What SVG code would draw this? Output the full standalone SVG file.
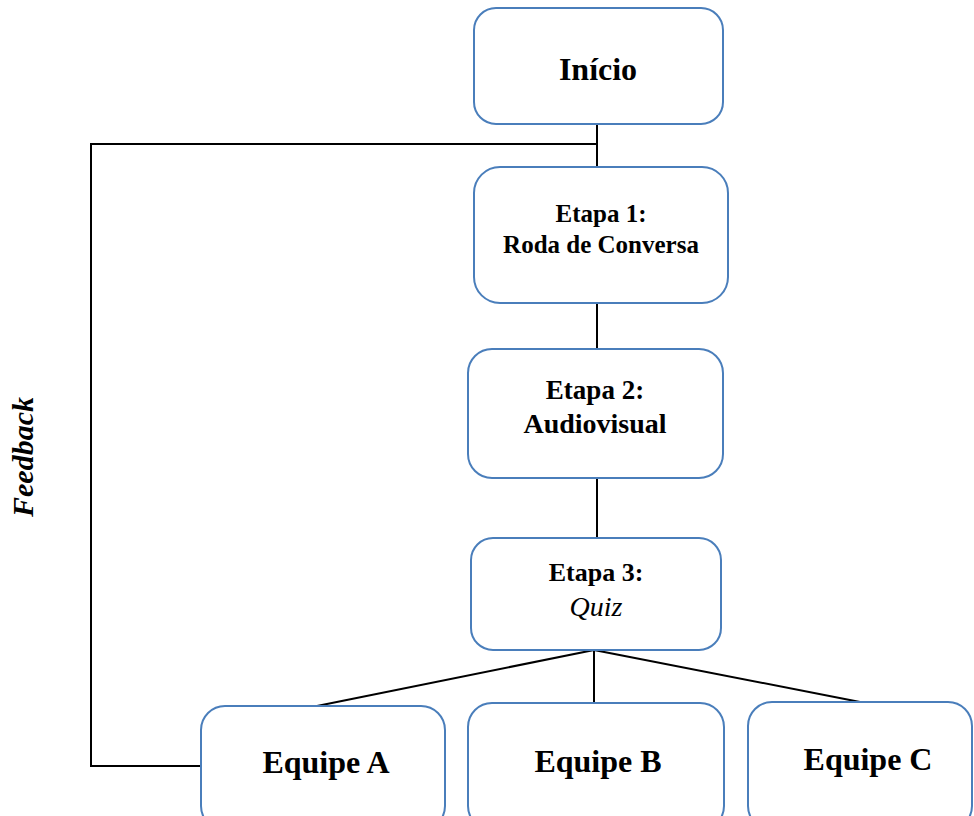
<svg xmlns="http://www.w3.org/2000/svg" width="974" height="816" viewBox="0 0 974 816">
<style>
.box{fill:#fff;stroke:#4A7EBB;stroke-width:2}
.ln{stroke:#000;stroke-width:2;fill:none}
.t{font-family:"Liberation Serif",serif;font-weight:bold;fill:#000;text-anchor:middle}
.it{font-family:"Liberation Serif",serif;font-weight:normal;font-style:italic;fill:#000;text-anchor:middle}
</style>
<rect width="974" height="816" fill="#fff"/>
<g id="connectors">
<line class="ln" x1="597" y1="124" x2="597" y2="168"/>
<polyline class="ln" points="597,144 91,144 91,766 201,766"/>
<line class="ln" x1="597" y1="303" x2="597" y2="349"/>
<line class="ln" x1="597" y1="478" x2="597" y2="538"/>
<line class="ln" x1="594" y1="650" x2="317" y2="706"/>
<line class="ln" x1="594" y1="650" x2="594" y2="703"/>
<line class="ln" x1="594" y1="650" x2="860" y2="702"/>
</g>
<g id="inicio">
<rect class="box" x="474" y="8" width="249" height="116" rx="22"/>
<text class="t" x="598" y="80" font-size="32">Início</text>
</g>
<g id="etapa1">
<rect class="box" x="474" y="167" width="254" height="136" rx="26"/>
<text class="t" x="601" y="222" font-size="25">Etapa 1:</text>
<text class="t" x="601" y="253" font-size="25">Roda de Conversa</text>
</g>
<g id="etapa2">
<rect class="box" x="468" y="349" width="255" height="129" rx="24"/>
<text class="t" x="595" y="399" font-size="27">Etapa 2:</text>
<text class="t" x="595" y="433" font-size="28">Audiovisual</text>
</g>
<g id="etapa3">
<rect class="box" x="471" y="538" width="250" height="112" rx="22"/>
<text class="t" x="596" y="581" font-size="26">Etapa 3:</text>
<text class="it" x="596" y="616" font-size="28">Quiz</text>
</g>
<g id="equipeA">
<rect class="box" x="201" y="706" width="244" height="124" rx="24"/>
<text class="t" x="326" y="773" font-size="32">Equipe A</text>
</g>
<g id="equipeB">
<rect class="box" x="468" y="703" width="256" height="127" rx="24"/>
<text class="t" x="598" y="772" font-size="32">Equipe B</text>
</g>
<g id="equipeC">
<rect class="box" x="748" y="702" width="224" height="128" rx="24"/>
<text class="t" x="868" y="770" font-size="32">Equipe C</text>
</g>
<g id="feedback">
<text class="t" transform="translate(33,457) rotate(-90)" font-size="30" font-style="italic">Feedback</text>
</g>
</svg>
